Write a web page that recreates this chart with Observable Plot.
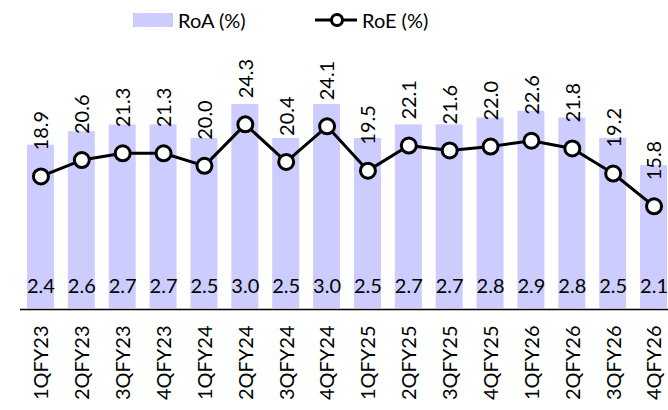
<!DOCTYPE html>
<html>
<head>
<meta charset="utf-8">
<script src="https://cdn.jsdelivr.net/npm/d3@7"></script>
<script src="https://cdn.jsdelivr.net/npm/@observablehq/plot@0.6"></script>
<style>
  body { margin: 0; background: #fff; font-family: Lato, "Open Sans", sans-serif; }
  #legend { position: relative; width: 668px; height: 40px; font-size: 20px; color: #000; }
  #legend .sw { position: absolute; left: 133px; top: 13px; width: 40px; height: 14px; background: #CCCCFF; }
  #legend .t1 { position: absolute; left: 178px; top: 7px; line-height: 26px; }
  #legend svg.ln { position: absolute; left: 313px; top: 10px; }
  #legend .t2 { position: absolute; left: 362px; top: 7px; line-height: 26px; }
  #chart svg { display: block; font-family: Lato, "Open Sans", sans-serif; }
</style>
</head>
<body>
<div id="legend">
  <div class="sw"></div><div class="t1">RoA (%)</div>
  <svg class="ln" width="48" height="20"><line x1="2" y1="10" x2="44" y2="10" stroke="#000" stroke-width="3"/><circle cx="24" cy="10" r="5.5" fill="#fff" stroke="#000" stroke-width="3"/></svg>
  <div class="t2">RoE (%)</div>
</div>
<div id="chart"></div>
<script>
const quarters = ["1QFY23","2QFY23","3QFY23","4QFY23","1QFY24","2QFY24","3QFY24","4QFY24","1QFY25","2QFY25","3QFY25","4QFY25","1QFY26","2QFY26","3QFY26","4QFY26"];
const roa = [2.4, 2.6, 2.7, 2.7, 2.5, 3.0, 2.5, 3.0, 2.5, 2.7, 2.7, 2.8, 2.9, 2.8, 2.5, 2.1];
const roe = [18.9, 20.6, 21.3, 21.3, 20.0, 24.3, 20.4, 24.1, 19.5, 22.1, 21.6, 22.0, 22.6, 21.8, 19.2, 15.8];

// secondary (RoE) axis mapped onto the primary (RoA) axis
const roaDomain = [0, 3.94];
const roeDomain = [5.2, 33];
const roeToRoa = d3.scaleLinear().domain(roeDomain).range(roaDomain);

const data = quarters.map((q, i) => ({q, roa: roa[i], roe: roe[i], roeY: roeToRoa(roe[i])}));

const chart = Plot.plot({
  width: 668,
  height: 370,
  marginTop: 0,
  marginBottom: 102,
  marginLeft: 20,
  marginRight: 0,
  x: {domain: quarters, range: [20, 674], paddingInner: 0.34, paddingOuter: 0.17, round: false, axis: null},
  y: {domain: roaDomain, axis: null},
  style: {fontFamily: "Lato, 'Open Sans', sans-serif", fontSize: "20px", overflow: "hidden"},
  marks: [
    Plot.barY(data, {x: "q", y: "roa", fill: "#CCCCFF"}),
    Plot.ruleY([0], {stroke: "#000", strokeWidth: 1.5, dy: 1}),
    Plot.text(data, {x: "q", y: 0, text: d => d.roa.toFixed(1), dy: -16, lineAnchor: "bottom", fill: "#000", fontSize: 20}),
    Plot.line(data, {x: "q", y: "roeY", stroke: "#000", strokeWidth: 3}),
    Plot.dot(data, {x: "q", y: "roeY", r: 7.5, fill: "#fff", stroke: "#000", strokeWidth: 3}),
    Plot.text(data, {x: "q", y: "roeY", text: d => d.roe.toFixed(1), rotate: -90, textAnchor: "start", lineAnchor: "middle", dy: -26, dx: 1, fill: "#000", fontSize: 20}),
    Plot.text(data, {x: "q", y: 0, text: "q", rotate: -90, textAnchor: "end", lineAnchor: "middle", dy: 17, dx: 1, fill: "#000", fontSize: 20})
  ]
});
document.getElementById("chart").appendChild(chart);
</script>
</body>
</html>
